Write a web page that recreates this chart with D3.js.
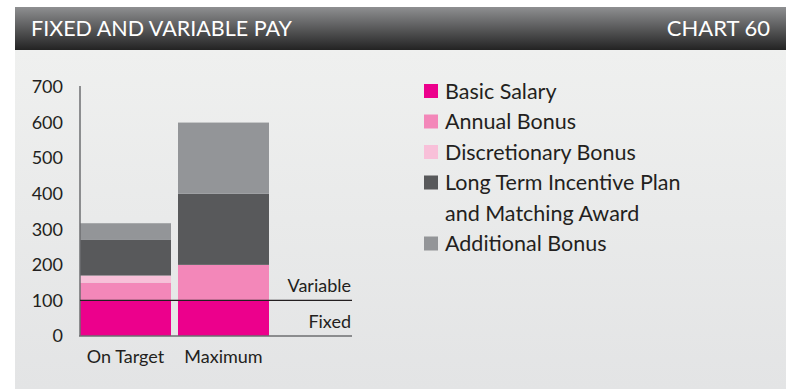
<!DOCTYPE html>
<html>
<head>
<meta charset="utf-8">
<script src="https://cdn.jsdelivr.net/npm/d3@7"></script>
<style>
  html, body { margin: 0; padding: 0; background: #ffffff; }
  svg { display: block; font-family: Lato, "Open Sans", sans-serif; }
</style>
</head>
<body>
<svg id="chart" width="786" height="390"></svg>
<script>
// Pay scenarios and their stacked components
const categories = ["On Target", "Maximum"];
const seriesNames = ["Basic Salary", "Annual Bonus", "Discretionary Bonus",
                     "Long Term Incentive Plan\nand Matching Award", "Additional Bonus"];
const basicSalary = [100, 100];
const annualBonus = [50, 100];
const discretionaryBonus = [20, 0];
const ltip = [100, 200];
const additionalBonus = [47, 200];
const yTicks = [0, 100, 200, 300, 400, 500, 600, 700];
const colors = ["#ec008c", "#f387b9", "#f8c0d9", "#58595b", "#939598"];

const seriesValues = [basicSalary, annualBonus, discretionaryBonus, ltip, additionalBonus];
const keys = ["basic", "annual", "discretionary", "ltip", "additional"];
const rows = categories.map((c, i) => {
  const r = { category: c };
  keys.forEach((k, j) => r[k] = seriesValues[j][i]);
  return r;
});

const svg = d3.select("#chart");
const defs = svg.append("defs");

const hg = defs.append("linearGradient").attr("id", "headGrad")
  .attr("x1", 0).attr("y1", 0).attr("x2", 0).attr("y2", 1);
hg.append("stop").attr("offset", "0%").attr("stop-color", "#8e8f91");
hg.append("stop").attr("offset", "100%").attr("stop-color", "#232323");

const bg = defs.append("linearGradient").attr("id", "bodyGrad")
  .attr("x1", 0).attr("y1", 0).attr("x2", 0).attr("y2", 1);
bg.append("stop").attr("offset", "0%").attr("stop-color", "#eff0ef");
bg.append("stop").attr("offset", "100%").attr("stop-color", "#e3e4e5");

// Panel background and header band
svg.append("rect").attr("x", 15).attr("y", 50).attr("width", 771).attr("height", 339)
  .attr("fill", "url(#bodyGrad)");
svg.append("rect").attr("x", 15).attr("y", 7).attr("width", 771).attr("height", 43)
  .attr("fill", "url(#headGrad)");
svg.append("text").attr("x", 31).attr("y", 36)
  .attr("fill", "#ffffff").attr("font-size", 22)
  .attr("textLength", 261).attr("lengthAdjust", "spacingAndGlyphs")
  .text("FIXED AND VARIABLE PAY");
svg.append("text").attr("x", 770).attr("y", 36).attr("text-anchor", "end")
  .attr("fill", "#ffffff").attr("font-size", 22)
  .text("CHART 60");

// Scales
const x = d3.scaleBand().domain(categories).range([80, 269]).paddingInner(7 / 98).paddingOuter(0);
const y = d3.scaleLinear().domain([0, 700]).range([336, 87]);

const stack = d3.stack().keys(keys);
const layers = stack(rows);

const g = svg.append("g");
g.selectAll("g.layer").data(layers).join("g")
  .attr("class", "layer")
  .attr("fill", (d, i) => colors[i])
  .selectAll("rect").data(d => d).join("rect")
  .attr("x", d => x(d.data.category))
  .attr("width", x.bandwidth())
  .attr("y", d => y(d[1]))
  .attr("height", d => y(d[0]) - y(d[1]));

// Y axis
const yAxis = d3.axisLeft(y).tickValues(yTicks).tickSize(0).tickPadding(17);
const ya = svg.append("g").attr("transform", "translate(80,0)").call(yAxis);
ya.select(".domain").remove();
ya.selectAll("text").attr("font-size", 18).attr("fill", "#231f20")
  .attr("font-family", "Lato, 'Open Sans', sans-serif");
svg.append("line").attr("x1", 80).attr("x2", 80).attr("y1", 86).attr("y2", y(0))
  .attr("stroke", "#6d6e70").attr("stroke-width", 1.5);

// X axis
const xAxis = d3.axisBottom(x).tickSize(0).tickPadding(14);
const xa = svg.append("g").attr("transform", `translate(0,${y(0)})`).call(xAxis);
xa.select(".domain").remove();
xa.selectAll("text").attr("font-size", 18).attr("fill", "#231f20")
  .attr("font-family", "Lato, 'Open Sans', sans-serif");
svg.append("line").attr("x1", 79).attr("x2", 352).attr("y1", y(0)).attr("y2", y(0))
  .attr("stroke", "#6d6e70").attr("stroke-width", 1.5);

// Fixed / variable divider
svg.append("line").attr("x1", 80).attr("x2", 352).attr("y1", y(100)).attr("y2", y(100))
  .attr("stroke", "#231f20").attr("stroke-width", 1.2);
svg.append("text").attr("x", 351).attr("y", y(100) - 8).attr("text-anchor", "end")
  .attr("font-size", 18).attr("fill", "#231f20").text("Variable");
svg.append("text").attr("x", 351).attr("y", y(100) + 28).attr("text-anchor", "end")
  .attr("font-size", 18).attr("fill", "#231f20").text("Fixed");

// Legend
const legend = svg.append("g").attr("transform", "translate(424,0)");
let rowY = 91;
seriesNames.forEach((name, i) => {
  const lines = name.split("\n");
  legend.append("rect").attr("x", 0).attr("y", rowY - 7).attr("width", 14).attr("height", 14)
    .attr("fill", colors[i]);
  lines.forEach((ln, j) => {
    legend.append("text").attr("x", 21).attr("y", rowY + j * 30.5 + 7.5)
      .attr("font-size", 21.5).attr("fill", "#231f20").text(ln);
  });
  rowY += 30.5 * lines.length;
});
</script>
</body>
</html>
